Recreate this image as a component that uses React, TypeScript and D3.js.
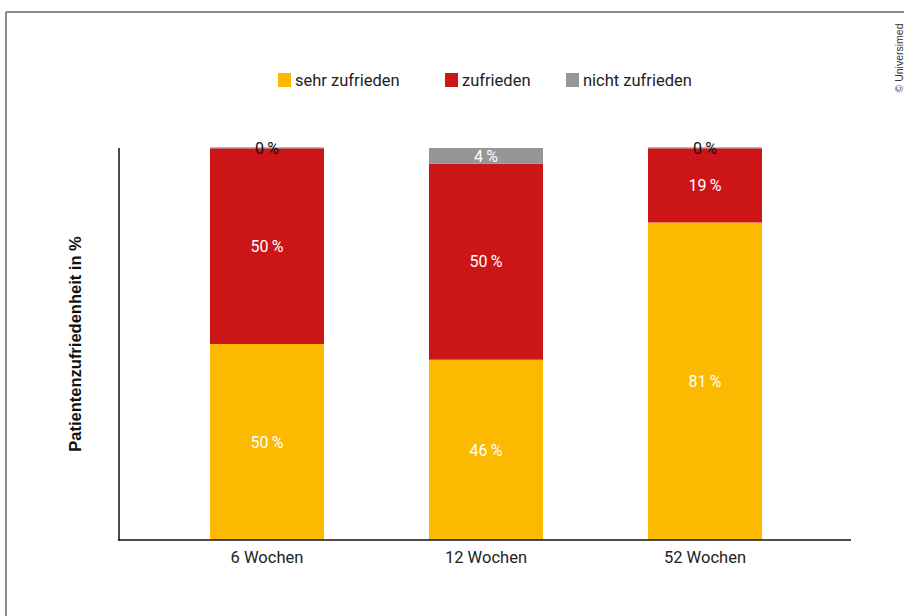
import React from "react";
import * as d3 from "d3";

const categories = ["6 Wochen", "12 Wochen", "52 Wochen"];
const seriesNames = ["sehr zufrieden", "zufrieden", "nicht zufrieden"];
const sehrZufrieden = [50, 46, 81];
const zufrieden = [50, 50, 19];
const nichtZufrieden = [0, 4, 0];
const colors = ["#FBB900", "#CC1517", "#969696"];

const W = 904;
const H = 616;

export default function App() {
  const rows = categories.map((c, i) => ({
    cat: c,
    "sehr zufrieden": sehrZufrieden[i],
    zufrieden: zufrieden[i],
    "nicht zufrieden": nichtZufrieden[i],
  }));
  const stack = d3.stack<any>().keys(seriesNames);
  const stacked = stack(rows);

  const x = d3
    .scaleBand<string>()
    .domain(categories)
    .range([157.5, 814.5])
    .paddingInner(0.4795)
    .paddingOuter(0.23975);
  const y = d3.scaleLinear().domain([0, 100]).range([540, 148]);

  const legendItems = [
    { name: seriesNames[0], x: 278 },
    { name: seriesNames[1], x: 445 },
    { name: seriesNames[2], x: 566 },
  ];

  const fmt = (v: number) => `${v}\u2009%`;

  return (
    <svg
      width={W}
      height={H}
      style={{ position: "absolute", left: 0, top: 0, background: "#fff" }}
    >
      {/* frame */}
      <line x1={6} y1={12} x2={W} y2={12} stroke="#666" strokeWidth={1.5} />
      <line x1={6} y1={12} x2={6} y2={H} stroke="#666" strokeWidth={1.5} />

      {/* copyright */}
      <text
        transform="translate(903,58) rotate(-90)"
        textAnchor="middle"
        fontFamily="Liberation Sans, Arial, sans-serif"
        fontSize={10.5}
        fill="#333"
      >
        © Universimed
      </text>

      {/* legend */}
      {legendItems.map((l, i) => (
        <g key={l.name}>
          <rect x={l.x} y={73} width={13} height={14} fill={colors[i]} />
          <text
            x={l.x + 17}
            y={86}
            fontFamily="Roboto, sans-serif"
            fontSize={16.5}
            fill="#222"
          >
            {l.name}
          </text>
        </g>
      ))}

      {/* bars */}
      {stacked.map((s, si) => (
        <g key={s.key} fill={colors[si]}>
          {s.map((d, i) => (
            <rect
              key={i}
              x={x(categories[i])!}
              y={y(d[1])}
              width={x.bandwidth()}
              height={Math.max(y(d[0]) - y(d[1]), 0)}
            />
          ))}
        </g>
      ))}
      {/* zero-value thin marks */}
      {stacked.map((s, si) =>
        s.map((d, i) =>
          d[1] - d[0] === 0 && si === 2 ? (
            <rect
              key={`z${si}-${i}`}
              x={x(categories[i])!}
              y={y(d[1]) - 1}
              width={x.bandwidth()}
              height={1.5}
              fill="#bbb"
            />
          ) : null
        )
      )}

      {/* value labels */}
      {stacked.map((s, si) =>
        s.map((d, i) => {
          const v = d[1] - d[0];
          const cx = x(categories[i])! + x.bandwidth() / 2;
          const cy = (y(d[0]) + y(d[1])) / 2;
          const zero = v === 0;
          return (
            <text
              key={`l${si}-${i}`}
              x={cx}
              y={cy}
              dy="0.36em"
              textAnchor="middle"
              fontFamily="Roboto, sans-serif"
              fontSize={16}
              fill={zero ? "#111" : "#fff"}
            >
              {fmt(v)}
            </text>
          );
        })
      )}

      {/* axes */}
      <line x1={119} y1={y(100)} x2={119} y2={y(0) + 0.75} stroke="#111" strokeWidth={1.5} />
      <line x1={118.25} y1={y(0)} x2={851} y2={y(0)} stroke="#111" strokeWidth={1.5} />

      {/* x labels */}
      {categories.map((c) => (
        <text
          key={c}
          x={x(c)! + x.bandwidth() / 2}
          y={563}
          textAnchor="middle"
          fontFamily="Roboto, sans-serif"
          fontSize={16.5}
          fill="#222"
        >
          {c}
        </text>
      ))}

      {/* y title */}
      <text
        transform="translate(81,344) rotate(-90)"
        textAnchor="middle"
        fontFamily="Liberation Sans, Arial, sans-serif"
        fontWeight="bold"
        fontSize={16.5}
        fill="#111"
      >
        Patientenzufriedenheit in %
      </text>
    </svg>
  );
}
